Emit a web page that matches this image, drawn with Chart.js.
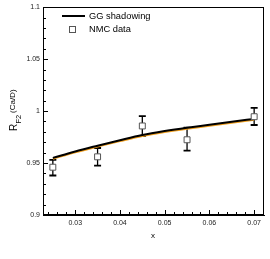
<!DOCTYPE html>
<html>
<head>
<meta charset="utf-8">
<script src="https://cdn.jsdelivr.net/npm/chart.js@4/dist/chart.umd.min.js"></script>
<style>
html,body{margin:0;padding:0;background:#fff;}
canvas{display:block;}
</style>
</head>
<body>
<canvas id="c" width="270" height="259"></canvas>
<script>
// ---- data ----
const curveX = [0.025, 0.03, 0.035, 0.04, 0.045, 0.05, 0.055, 0.06, 0.065, 0.07];
const ggShadowing = [0.955, 0.9612, 0.9667, 0.972, 0.977, 0.9808, 0.984, 0.9868, 0.9897, 0.9925];
const ggShadowingAlt = [0.954, 0.9602, 0.9657, 0.971, 0.976, 0.9798, 0.983, 0.9858, 0.9887, 0.9915];
const nmcX = [0.025, 0.035, 0.045, 0.055, 0.07];
const nmcY = [0.946, 0.956, 0.9857, 0.9724, 0.9946];
const nmcLow = [0.938, 0.9476, 0.976, 0.962, 0.9866];
const nmcHigh = [0.953, 0.9645, 0.9952, 0.984, 1.0032];
const xTicks = [0.03, 0.04, 0.05, 0.06, 0.07];
const yTicks = [0.9, 0.95, 1, 1.05, 1.1];
const xMinorStep = 0.002;
const yMinorStep = 0.01;
const seriesLabels = ['GG shadowing', 'NMC data'];

const FONT = '"Liberation Sans", Arial, sans-serif';

const pts = (xs, ys) => xs.map((x, i) => ({x: x, y: ys[i]}));

const decor = {
  id: 'decor',
  beforeDatasetsDraw(chart) {
    const ctx = chart.ctx, xs = chart.scales.x, ys = chart.scales.y;
    ctx.save();
    ctx.strokeStyle = '#000';
    for (let i = 0; i < nmcX.length; i++) {
      const px = xs.getPixelForValue(nmcX[i]);
      const lo = ys.getPixelForValue(nmcLow[i]);
      const hi = ys.getPixelForValue(nmcHigh[i]);
      ctx.lineWidth = 1.3;
      ctx.beginPath(); ctx.moveTo(px, lo); ctx.lineTo(px, hi); ctx.stroke();
      ctx.lineWidth = 1.8;
      ctx.beginPath();
      ctx.moveTo(px - 3.5, lo); ctx.lineTo(px + 3.5, lo);
      ctx.moveTo(px - 3.5, hi); ctx.lineTo(px + 3.5, hi);
      ctx.stroke();
    }
    ctx.restore();
  },
  afterDraw(chart) {
    const ctx = chart.ctx, a = chart.chartArea, xs = chart.scales.x, ys = chart.scales.y;
    ctx.save();
    // frame
    ctx.strokeStyle = '#000';
    ctx.lineWidth = 1;
    ctx.strokeRect(Math.round(a.left) + 0.5, Math.round(a.top) + 0.5, Math.round(a.right - a.left) - 1, Math.round(a.bottom - a.top) - 1);
    // ticks inward
    ctx.beginPath();
    const eps = 1e-9;
    for (let v = 0.9; v <= 1.1 + eps; v += yMinorStep) {
      const py = Math.round(ys.getPixelForValue(v)) + 0.5;
      const major = yTicks.some(t => Math.abs(t - v) < 1e-6);
      const L = major ? 5 : 3;
      ctx.moveTo(a.left, py); ctx.lineTo(a.left + L, py);
    }
    for (let v = 0.024; v <= xs.max + eps; v += xMinorStep) {
      if (v < xs.min) continue;
      const px = Math.round(xs.getPixelForValue(v)) + 0.5;
      const major = xTicks.some(t => Math.abs(t - v) < 1e-6);
      const L = major ? 5 : 3;
      ctx.moveTo(px, a.bottom); ctx.lineTo(px, a.bottom - L);
    }
    ctx.stroke();

    // legend
    const lx = 62, ly1 = 16, ly2 = 29;
    ctx.strokeStyle = '#000';
    ctx.lineWidth = 2;
    ctx.beginPath(); ctx.moveTo(lx, ly1); ctx.lineTo(lx + 23, ly1); ctx.stroke();
    ctx.fillStyle = '#fff';
    ctx.strokeStyle = '#555';
    ctx.lineWidth = 1;
    ctx.fillRect(69, 26, 6, 6);
    ctx.strokeRect(69.5, 26.5, 6, 6);
    ctx.fillStyle = '#000';
    ctx.font = '9.3px ' + FONT;
    ctx.textBaseline = 'middle';
    ctx.textAlign = 'left';
    ctx.fillText(seriesLabels[0], 89, ly1);
    ctx.fillText(seriesLabels[1], 89, ly2);

    // x title
    ctx.font = '8px ' + FONT;
    ctx.textAlign = 'center';
    ctx.fillText('x', 153, 236);

    // y title R_F2 (Ca/D)
    ctx.save();
    ctx.rotate(-Math.PI / 2);
    ctx.textBaseline = 'alphabetic';
    ctx.textAlign = 'left';
    ctx.font = '10px ' + FONT;
    ctx.fillText('R', -131, 16.5);
    ctx.font = '7.5px ' + FONT;
    ctx.fillText('F2', -123.5, 20.5);
    ctx.font = '8px ' + FONT;
    ctx.fillText('(Ca/D)', -113, 14.5);
    ctx.restore();

    ctx.restore();
  }
};

new Chart(document.getElementById('c'), {
  type: 'scatter',
  data: {
    datasets: [
      {
        label: seriesLabels[1],
        data: pts(nmcX, nmcY),
        pointStyle: 'rect',
        pointRadius: 4.2,
        pointBackgroundColor: '#fff',
        pointBorderColor: '#555',
        pointBorderWidth: 1,
        showLine: false
      },
      {
        label: seriesLabels[0],
        data: pts(curveX, ggShadowing),
        showLine: true,
        borderColor: '#000',
        borderWidth: 2,
        pointRadius: 0,
        cubicInterpolationMode: 'monotone'
      },
      {
        label: '',
        data: pts(curveX, ggShadowingAlt),
        showLine: true,
        borderColor: '#f0a020',
        borderWidth: 1.8,
        pointRadius: 0,
        cubicInterpolationMode: 'monotone'
      }
    ]
  },
  options: {
    responsive: false,
    animation: false,
    layout: {padding: {top: 5, right: 6, left: 0, bottom: 0}},
    plugins: {legend: {display: false}, tooltip: {enabled: false}},
    scales: {
      x: {
        type: 'linear',
        min: 0.0228,
        max: 0.0722,
        afterFit(s) { s.height = 44; },
        afterBuildTicks(s) { s.ticks = xTicks.map(v => ({value: v})); },
        grid: {display: false, drawTicks: false},
        border: {display: true, color: '#000'},
        ticks: {
          padding: 4,
          color: '#222',
          font: {family: FONT, size: 7},
          maxRotation: 0,
          callback: v => String(+v.toFixed(3))
        }
      },
      y: {
        min: 0.9,
        max: 1.1,
        afterFit(s) { s.width = 43; },
        afterBuildTicks(s) { s.ticks = yTicks.map(v => ({value: v})); },
        grid: {display: false, drawTicks: false},
        border: {display: true, color: '#000'},
        ticks: {
          padding: 3,
          color: '#222',
          font: {family: FONT, size: 7},
          callback: v => String(+v.toFixed(2))
        }
      }
    }
  },
  plugins: [decor]
});
</script>
</body>
</html>
